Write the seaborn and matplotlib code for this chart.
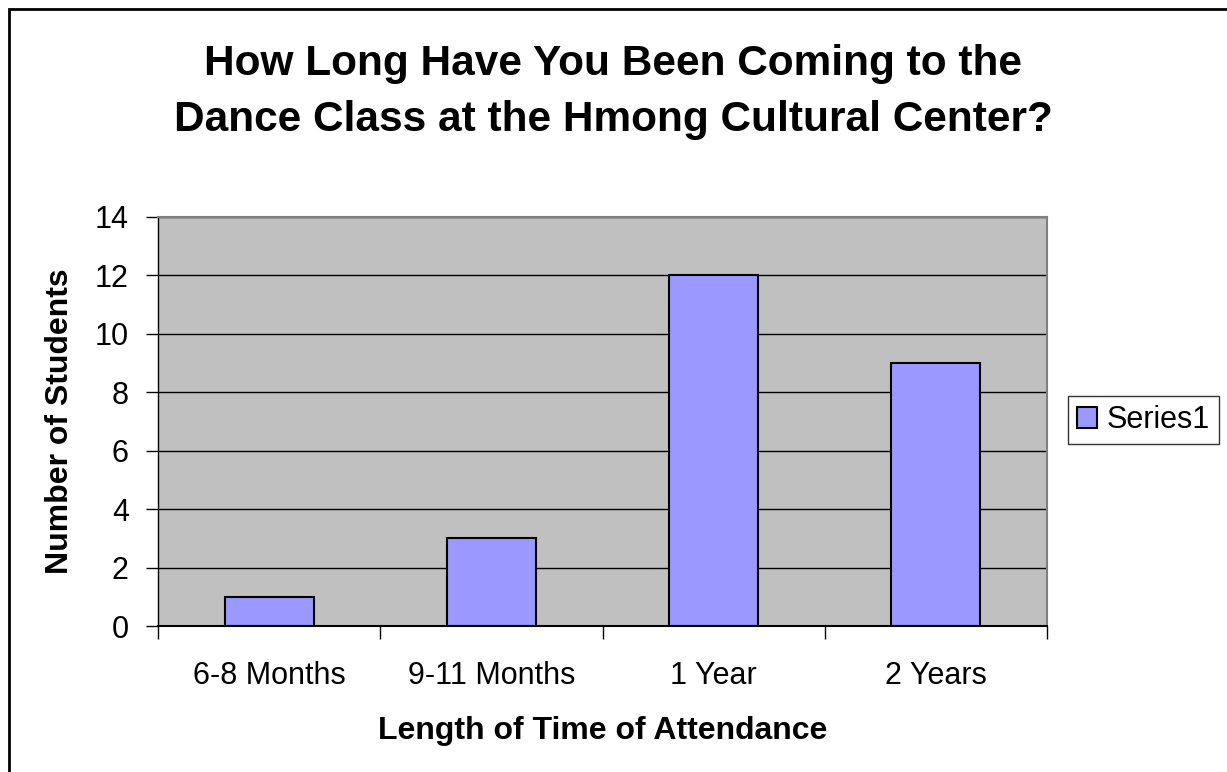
import matplotlib
matplotlib.use("Agg")
import matplotlib.pyplot as plt
import pandas as pd
import seaborn as sns
from matplotlib.patches import Rectangle

categories = ["6-8 Months", "9-11 Months", "1 Year", "2 Years"]
students = [1, 3, 12, 9]
series_name = "Series1"

sns.set_style("white")
plt.rcParams['font.family'] = ['Liberation Sans', 'DejaVu Sans']
plt.rcParams['text.color'] = 'black'
plt.rcParams['axes.labelcolor'] = 'black'
plt.rcParams['xtick.color'] = 'black'
plt.rcParams['ytick.color'] = 'black'

df = pd.DataFrame({"cat": categories, "n": students, "series": series_name})

fig = plt.figure(figsize=(12.27, 7.72), dpi=100)
ax = fig.add_axes([158 / 1227, 1 - 626 / 772, (1047 - 158) / 1227, (626 - 217) / 772])

sns.barplot(data=df, x="cat", y="n", hue="series", ax=ax,
            palette=["#9999FF"], width=0.4, edgecolor="black", linewidth=1.5,
            saturation=1)

ax.set_facecolor("#C0C0C0")
ax.set_ylim(0, 14)
ax.set_xlim(-0.5, 3.5)
ax.set_yticks(range(0, 15, 2))
ax.yaxis.grid(True, color="black", linewidth=1)
ax.set_axisbelow(True)
for s in ["top", "right"]:
    ax.spines[s].set_color("#808080")
    ax.spines[s].set_linewidth(1.5)
ax.spines["left"].set_color("black")
ax.spines["bottom"].set_color("black")
ax.spines["left"].set_linewidth(1)
ax.spines["bottom"].set_linewidth(1.5)

ax.tick_params(axis="y", length=9, width=1, color="black", labelsize=22, pad=12, left=True)
ax.set_xticks([-0.5, 0.5, 1.5, 2.5, 3.5], minor=True)
ax.tick_params(axis="x", which="minor", length=9, width=1, color="black", bottom=True)
ax.tick_params(axis="x", which="major", length=0, labelsize=22, pad=25)

ax.set_xlabel("Length of Time of Attendance", fontsize=23, fontweight="bold", labelpad=18)
ax.set_ylabel("Number of Students", fontsize=23, fontweight="bold", labelpad=14)

fig.suptitle("How Long Have You Been Coming to the\nDance Class at the Hmong Cultural Center?",
             fontsize=30.5, fontweight="bold", y=1 - 44 / 772, va="top", linespacing=1.5)

leg = ax.legend(loc="upper left", bbox_to_anchor=(1068 / 1227, 1 - 396 / 772),
                bbox_transform=fig.transFigure, fontsize=22, frameon=True,
                fancybox=False, edgecolor="black", borderpad=0.3,
                borderaxespad=0, handlelength=0.65, handleheight=0.65, handletextpad=0.3)
leg.get_frame().set_linewidth(1)

fig.patches.append(Rectangle((9 / 1227, -0.05), 1.2, 1 - 9 / 772 + 0.05,
                             transform=fig.transFigure, fill=False,
                             edgecolor="black", linewidth=2))

fig.savefig("out.png", dpi=100)
